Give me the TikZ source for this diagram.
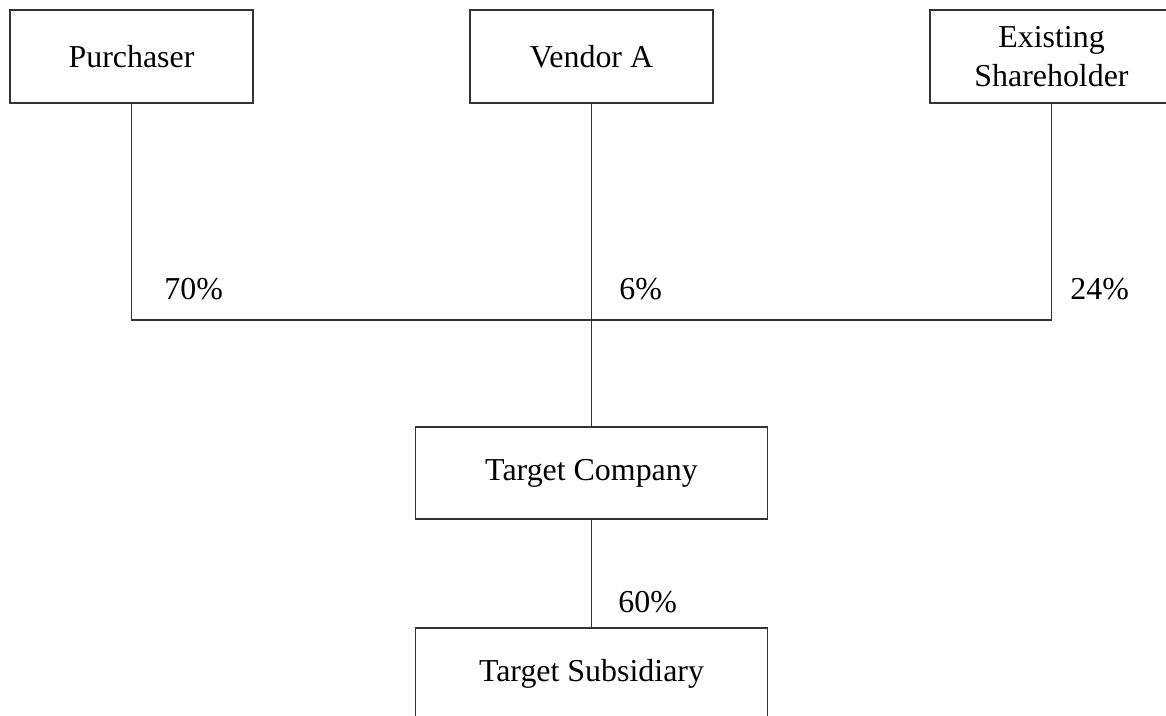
\documentclass[tikz,border=0pt]{standalone}
\usepackage{fontspec}
\setmainfont{Liberation Serif}
\usetikzlibrary{positioning}

\begin{document}
\begin{tikzpicture}[node distance = 5.425cm, line width=1.2pt, every node/.style={font=\fontsize{22.7}{27.5}\selectfont}]
\tikzstyle{box}=[draw=black!80, minimum width=6.075cm, minimum height=2.325cm, inner sep=0pt, outer sep=0pt, align=center]
\tikzstyle{wide}=[box, minimum width=8.8cm, minimum height=2.3cm]
\tikzstyle{pct}=[anchor=base west, inner sep=0pt]
\useasboundingbox (0,0) rectangle (29.15,-17.9);
\node[box]	(Pur)	at (3.2875,-1.4125)		{Purchaser};
\node[box]	(VenA)	[right= of Pur]			{Vendor A};
\node[box]	(ExSh)	[right= of VenA]		{Existing\\Shareholder};
\node[wide]	(TCo)	[below=8.1cm of VenA]		{Target Company};
\node[wide]	(TSub)	[below=2.725cm of TCo]		{Target Subsidiary};
\coordinate[below=5.425cm of VenA.south]	(J);
\coordinate	(PJ)	at (Pur |- J);
\coordinate	(EJ)	at (ExSh |- J);

\draw[black!80] (Pur) -- (PJ) -- (EJ) -- (ExSh);
\draw[black!80] (VenA) -- (TCo);
\draw[black!80] (TCo) -- (TSub);

\node[pct]	(p70)	at ([shift={(0.8,0.525)}]PJ)	{70\%};
\node[pct]	(p6)	at ([shift={(0.675,0.525)}]J)	{6\%};
\node[pct]	(p24)	at ([shift={(0.45,0.525)}]EJ)	{24\%};
\node[pct]	(p60)	at ([shift={(0.65,0.4)}]TSub.north)	{60\%};
\end{tikzpicture}
\end{document}
